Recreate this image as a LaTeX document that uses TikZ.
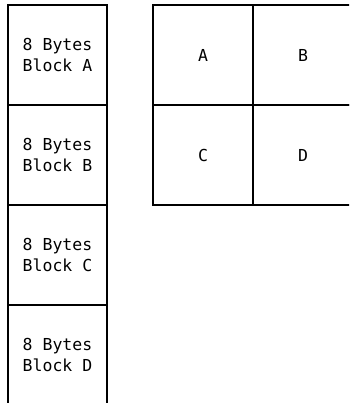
\documentclass[tikz,border=0pt]{standalone}
\usepackage{fontspec}
\newfontfamily\monof{DejaVu Sans Mono}
\begin{document}
\begin{tikzpicture}[x=1pt,y=-1pt,
  cell/.style={draw=black,line width=1.2pt,minimum width=99pt,minimum height=100pt,inner sep=0pt,outer sep=0pt,
    font=\monof\fontsize{16.5}{21}\selectfont,align=center}]
\useasboundingbox (0,0) rectangle (349,403);
\clip (0,0) rectangle (349,403);
\node[cell] (ba) at (57.5,55) {8 Bytes\\Block A};
\node[cell] (bb) at (57.5,155) {8 Bytes\\Block B};
\node[cell] (bc) at (57.5,255) {8 Bytes\\Block C};
\node[cell] (bd) at (57.5,355) {8 Bytes\\Block D};
\node[cell,minimum width=100pt] (a) at (203,55) {A};
\node[cell,minimum width=100pt] (b) at (303,55) {B};
\node[cell,minimum width=100pt] (c) at (203,155) {C};
\node[cell,minimum width=100pt] (d) at (303,155) {D};
\end{tikzpicture}
\end{document}
